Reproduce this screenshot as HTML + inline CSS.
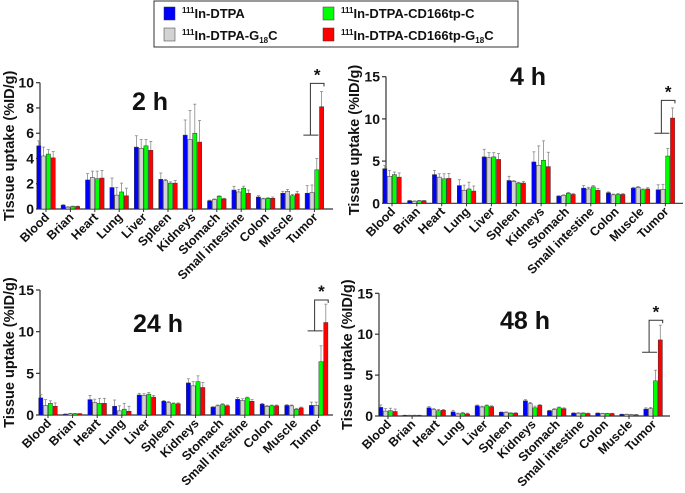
<!DOCTYPE html>
<html><head><meta charset="utf-8"><style>
body{margin:0;background:#fff;}
svg{display:block;font-family:"Liberation Sans",Arial,sans-serif;}
text{font-weight:bold;fill:#111;}
</style></head><body>
<svg id="c" width="685" height="493" viewBox="0 0 685 493" xmlns="http://www.w3.org/2000/svg">
<g>
<rect x="154" y="1" width="364" height="46" fill="#fff" stroke="#333" stroke-width="1"/>
<rect x="164" y="7" width="11" height="13" fill="#0000ff" stroke="#333" stroke-width="0.5"/>
<text x="182" y="18" font-size="13"><tspan font-size="8" dy="-5">111</tspan><tspan dy="5">In-DTPA</tspan></text>
<rect x="164" y="28" width="11" height="13" fill="#d3d3d3" stroke="#333" stroke-width="0.5"/>
<text x="182" y="40" font-size="13"><tspan font-size="8" dy="-5">111</tspan><tspan dy="5">In-DTPA-G</tspan><tspan font-size="8" dy="3">18</tspan><tspan dy="-3">C</tspan></text>
<rect x="323" y="7" width="11" height="13" fill="#00ff00" stroke="#333" stroke-width="0.5"/>
<text x="341" y="18" font-size="13"><tspan font-size="8" dy="-5">111</tspan><tspan dy="5">In-DTPA-CD166tp-C</tspan></text>
<rect x="323" y="28" width="11" height="13" fill="#ff0000" stroke="#333" stroke-width="0.5"/>
<text x="341" y="40" font-size="13"><tspan font-size="8" dy="-5">111</tspan><tspan dy="5">In-DTPA-CD166tp-G</tspan><tspan font-size="8" dy="3">18</tspan><tspan dy="-3">C</tspan></text>
</g>
</svg>
<script>
const categories=["Blood","Brian","Heart","Lung","Liver","Spleen","Kidneys","Stomach","Small intestine","Colon","Muscle","Tumor"];
const seriesNames=["dtpa","g18c","cd166tp-c","cd166tp-g18c"];
const colors=["#0000ff","#d3d3d3","#00ff00","#ff0000"];
// 2 h
const v2h_dtpa=[5.0,0.3,2.3,1.7,4.9,2.35,5.85,0.65,1.5,0.95,1.25,1.25];
const v2h_g18c=[4.2,0.15,2.5,1.1,4.8,2.25,5.5,0.75,1.35,0.8,1.4,1.3];
const v2h_cdc=[4.35,0.2,2.4,1.35,5.0,2.05,6.0,1.0,1.65,0.85,1.05,3.1];
const v2h_cdg=[4.05,0.2,2.45,1.05,4.65,2.05,5.3,0.8,1.25,0.85,1.2,8.1];
const e2h_dtpa=[0.4,0.05,0.5,0.75,0.9,0.5,1.2,0.05,0.3,0.1,0.15,0.6];
const e2h_g18c=[0.7,0.03,0.5,0.6,0.7,0.1,2.3,0.05,0.2,0.05,0.15,0.6];
const e2h_cdc=[0.35,0.03,0.6,0.7,0.5,0.1,2.3,0.05,0.15,0.05,0.1,0.9];
const e2h_cdg=[0.5,0.03,0.6,0.6,0.7,0.2,1.7,0.05,0.25,0.1,0.2,1.2];
// 4 h
const v4h_dtpa=[4.1,0.3,3.4,2.1,5.5,2.7,4.9,0.85,1.8,1.25,1.8,1.6];
const v4h_g18c=[3.2,0.25,3.1,1.55,5.4,2.6,4.5,0.95,1.7,1.0,1.9,1.65];
const v4h_cdc=[3.4,0.3,2.9,1.7,5.5,2.4,5.1,1.2,1.95,1.05,1.6,5.6];
const v4h_cdg=[3.1,0.3,2.95,1.45,5.2,2.4,4.35,1.05,1.55,1.05,1.7,10.1];
const e4h_dtpa=[0.4,0.05,0.5,0.7,0.9,0.5,1.2,0.05,0.3,0.1,0.1,0.6];
const e4h_g18c=[0.7,0.03,0.4,0.6,0.6,0.1,2.3,0.05,0.2,0.1,0.1,0.6];
const e4h_cdc=[0.3,0.03,0.6,0.8,0.5,0.1,2.3,0.1,0.15,0.1,0.1,0.9];
const e4h_cdg=[0.5,0.03,0.6,0.6,0.7,0.2,1.7,0.1,0.2,0.1,0.15,1.2];
// 24 h
const v24h_dtpa=[2.05,0.1,1.85,1.05,2.4,1.65,3.85,0.95,1.9,1.3,1.15,1.15];
const v24h_g18c=[1.15,0.15,1.5,0.5,2.35,1.5,3.5,1.1,1.75,1.05,1.1,1.15];
const v24h_cdc=[1.4,0.15,1.4,0.7,2.5,1.35,4.0,1.25,2.05,1.1,0.7,6.4];
const v24h_cdg=[1.05,0.15,1.4,0.45,2.15,1.35,3.3,1.1,1.65,1.1,0.85,11.1];
const e24h_dtpa=[0.4,0.03,0.5,0.75,0.2,0.1,0.5,0.05,0.2,0.1,0.1,0.4];
const e24h_g18c=[0.7,0.03,0.4,0.6,0.2,0.1,0.5,0.1,0.2,0.1,0.1,0.4];
const e24h_cdc=[0.3,0.03,0.6,0.7,0.2,0.1,0.7,0.1,0.1,0.1,0.1,1.9];
const e24h_cdg=[0.4,0.03,0.6,0.6,0.2,0.1,0.6,0.1,0.2,0.1,0.1,2.2];
// 48 h
const v48h_dtpa=[1.05,0.08,1.0,0.5,1.25,0.45,1.85,0.65,0.35,0.35,0.2,0.85];
const v48h_g18c=[0.6,0.08,0.8,0.25,1.1,0.45,1.5,0.8,0.35,0.3,0.2,0.9];
const v48h_cdc=[0.65,0.08,0.65,0.35,1.25,0.35,1.0,1.0,0.35,0.3,0.15,4.3];
const v48h_cdg=[0.55,0.08,0.7,0.25,1.15,0.35,1.3,0.9,0.3,0.3,0.15,9.3];
const e48h_dtpa=[0.3,0.02,0.15,0.2,0.1,0.05,0.15,0.05,0.05,0.03,0.03,0.15];
const e48h_g18c=[0.3,0.02,0.1,0.1,0.1,0.05,0.15,0.1,0.05,0.03,0.03,0.15];
const e48h_cdc=[0.3,0.02,0.15,0.1,0.1,0.05,0.2,0.1,0.05,0.03,0.03,1.3];
const e48h_cdg=[0.3,0.02,0.1,0.1,0.1,0.05,0.1,0.1,0.05,0.03,0.03,1.8];
const ticks2h=[0,2,4,6,8,10];
const ticksOther=[0,5,10,15];
// significance brackets [lowLevel, topLevel]
const bracket2h=[5.85,9.95];
const bracket4h=[8.3,12.2];
const bracket24h=[10.1,13.8];
const bracket48h=[7.8,11.7];

const NS="http://www.w3.org/2000/svg";
const svg=document.getElementById('c');
function mk(tag,attrs,parent){const e=document.createElementNS(NS,tag);for(const k in attrs)e.setAttribute(k,attrs[k]);(parent||svg).appendChild(e);return e;}

const panels=[
 {id:"2h",title:"2 h",tx:150,ty:110,ax:40,xEnd:333,y0:209,yTop:82.7,max:10,first:46,step:24.4,ticks:ticks2h,vals:[v2h_dtpa,v2h_g18c,v2h_cdc,v2h_cdg],errs:[e2h_dtpa,e2h_g18c,e2h_cdc,e2h_cdg],br:bracket2h,ylx:14},
 {id:"4h",title:"4 h",tx:528,ty:85,ax:386,xEnd:683,y0:203.3,yTop:76.7,max:15,first:392,step:24.85,ticks:ticksOther,vals:[v4h_dtpa,v4h_g18c,v4h_cdc,v4h_cdg],errs:[e4h_dtpa,e4h_g18c,e4h_cdc,e4h_cdg],br:bracket4h,ylx:359},
 {id:"24h",title:"24 h",tx:158,ty:332,ax:40,xEnd:333,y0:415,yTop:290,max:15,first:48,step:24.6,ticks:ticksOther,vals:[v24h_dtpa,v24h_g18c,v24h_cdc,v24h_cdg],errs:[e24h_dtpa,e24h_g18c,e24h_cdc,e24h_cdg],br:bracket24h,ylx:14},
 {id:"48h",title:"48 h",tx:525,ty:329,ax:379,xEnd:670,y0:416,yTop:293.3,max:15,first:388,step:24.1,ticks:ticksOther,vals:[v48h_dtpa,v48h_g18c,v48h_cdc,v48h_cdg],errs:[e48h_dtpa,e48h_g18c,e48h_cdc,e48h_cdg],br:bracket48h,ylx:352}
];
const bw=4.8;
panels.forEach(p=>{
 const g=mk('g',{});
 
 
 const y=v=>p.y0-(v/p.max)*(p.y0-p.yTop);
 const gx=i=>p.first+i*p.step;
 const bx=(i,s)=>gx(i)-2*bw+s*bw;
 const t=mk('text',{x:p.tx,y:p.ty,'font-size':25,'text-anchor':'middle'},g);t.textContent=p.title;
 
 
 const yl=mk('text',{x:0,y:0,'font-size':14.5,'text-anchor':'middle',transform:`translate(${p.ylx},${(p.y0+p.yTop)/2}) rotate(-90)`},g);
 yl.textContent="Tissue uptake (%ID/g)";
 
 
 mk('line',{x1:p.ax,y1:p.yTop,x2:p.ax,y2:p.y0,stroke:'#333','stroke-width':1.2},g);
 mk('line',{x1:p.ax,y1:p.y0,x2:p.xEnd,y2:p.y0,stroke:'#333','stroke-width':1.2},g);
 p.ticks.forEach(tv=>{
  mk('line',{x1:p.ax-4,y1:y(tv),x2:p.ax,y2:y(tv),stroke:'#333','stroke-width':1.2},g);
  const tl=mk('text',{x:p.ax-6,y:y(tv)+5,'font-size':14,'text-anchor':'end'},g);tl.textContent=tv;
  
  
 });
 categories.forEach((c,i)=>{
  mk('line',{x1:gx(i),y1:p.y0,x2:gx(i),y2:p.y0+3,stroke:'#333','stroke-width':1},g);
  const cl=mk('text',{x:0,y:0,'font-size':12.5,'text-anchor':'end',transform:`translate(${gx(i)+4},${p.y0+9}) rotate(-45)`},g);
  cl.textContent=c;
  
  
  for(let s=0;s<4;s++){
   const v=p.vals[s][i],e=p.errs[s][i];
   const cx=bx(i,s)+bw/2;
   mk('line',{x1:cx,y1:y(v),x2:cx,y2:y(v+e),stroke:'#888','stroke-width':0.8},g);
   mk('line',{x1:cx-1.5,y1:y(v+e),x2:cx+1.5,y2:y(v+e),stroke:'#888','stroke-width':0.8},g);
   const r=mk('rect',{x:bx(i,s)+0.3,y:y(v),width:bw-0.6,height:p.y0-y(v),fill:colors[s],stroke:'#333','stroke-width':0.5},g);
   
   
  }
 });
 const ti=categories.length-1;
 const vx=gx(ti)-4, rxc=bx(ti,3)+bw;
 const b=mk('path',{d:`M${gx(ti)-11},${y(p.br[0])} H${gx(ti)+4} M${vx},${y(p.br[0])} V${y(p.br[1])} H${rxc} V${y(p.br[1])+3}`,fill:'none',stroke:'#333','stroke-width':1},g);
 
 
 const st=mk('text',{x:(vx+rxc)/2,y:y(p.br[1])-3,'font-size':17,'text-anchor':'middle'},g);st.textContent="*";
 
 
});
</script>
</body></html>
